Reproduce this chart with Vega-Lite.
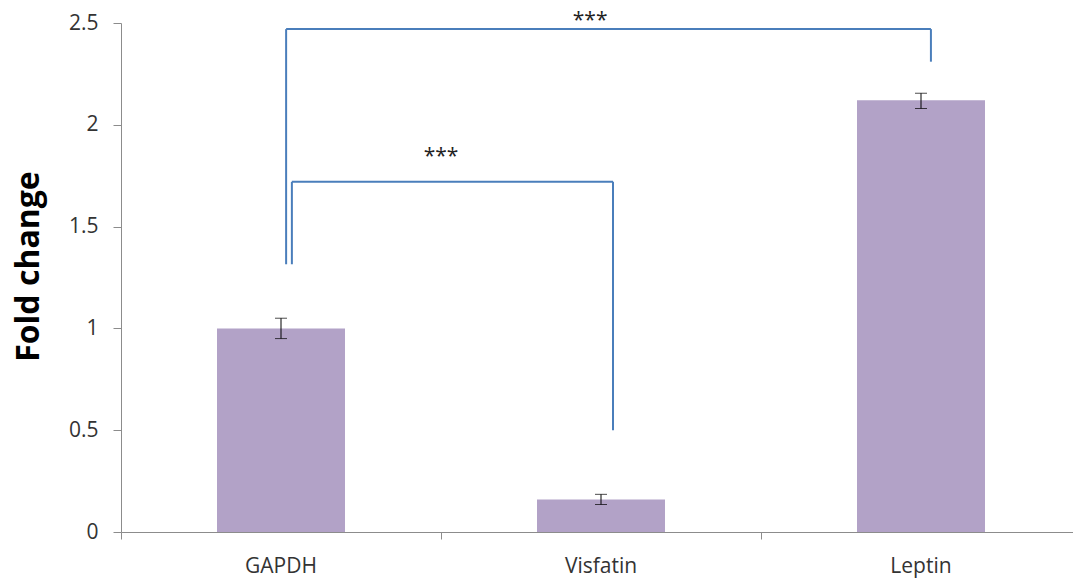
{
  "$schema": "https://vega.github.io/schema/vega-lite/v6.json",
  "width": 960,
  "height": 509,
  "autosize": {"type": "none"},
  "padding": {"left": 121, "top": 23, "right": 0, "bottom": 46},
  "background": "white",
  "config": {"view": {"stroke": null}, "font": "Open Sans"},
  "datasets": {
    "genes": [
      {"gene": "GAPDH", "value": 1.0, "lo": 0.95, "hi": 1.05},
      {"gene": "Visfatin", "value": 0.16, "lo": 0.135, "hi": 0.185},
      {"gene": "Leptin", "value": 2.12, "lo": 2.08, "hi": 2.155}
    ],
    "segments": [
      {"x": 0.516, "x2": 0.516, "y": 1.315, "y2": 2.47},
      {"x": 0.516, "x2": 2.531, "y": 2.47, "y2": 2.47},
      {"x": 2.531, "x2": 2.531, "y": 2.31, "y2": 2.47},
      {"x": 0.534, "x2": 0.534, "y": 1.315, "y2": 1.72},
      {"x": 0.534, "x2": 1.5375, "y": 1.72, "y2": 1.72},
      {"x": 1.5375, "x2": 1.5375, "y": 0.5, "y2": 1.72}
    ],
    "stars": [
      {"x": 1.466, "y": 2.51, "label": "***"},
      {"x": 1.0, "y": 1.842, "label": "***"}
    ]
  },
  "layer": [
    {
      "data": {"name": "genes"},
      "encoding": {
        "x": {
          "field": "gene",
          "type": "nominal",
          "sort": ["GAPDH", "Visfatin", "Leptin"],
          "scale": {"paddingInner": 0.6, "paddingOuter": 0.3},
          "axis": {
            "title": null,
            "orient": "bottom",
            "labelAngle": 0,
            "labelFontSize": 21,
            "labelColor": "#333333",
            "labelPadding": 23,
            "ticks": false,
            "domain": false,
            "grid": false
          }
        }
      },
      "layer": [
        {
          "mark": {"type": "bar", "color": "#b2a2c7"},
          "encoding": {
            "y": {
              "field": "value",
              "type": "quantitative",
              "scale": {"domain": [0, 2.5], "nice": false},
              "axis": {
                "title": "Fold change",
                "titleFontSize": 32,
                "titleFontWeight": "bold",
                "titleColor": "black",
                "titlePadding": 23,
                "titleY": 243,
                "values": [0, 0.5, 1, 1.5, 2, 2.5],
                "format": "~g",
                "labelFontSize": 21,
                "labelColor": "#333333",
                "labelPadding": 15,
                "tickSize": 8,
                "tickColor": "#8c8c8c",
                "domainColor": "#8c8c8c",
                "grid": false
              }
            }
          }
        },
        {
          "mark": {"type": "rule", "color": "black", "strokeWidth": 1},
          "encoding": {
            "y": {"field": "lo", "type": "quantitative"},
            "y2": {"field": "hi"}
          }
        },
        {
          "mark": {"type": "tick", "color": "black", "size": 12, "thickness": 1, "orient": "horizontal"},
          "encoding": {"y": {"field": "lo", "type": "quantitative"}}
        },
        {
          "mark": {"type": "tick", "color": "black", "size": 12, "thickness": 1, "orient": "horizontal"},
          "encoding": {"y": {"field": "hi", "type": "quantitative"}}
        }
      ]
    },
    {
      "encoding": {
        "x": {
          "field": "x",
          "type": "quantitative",
          "scale": {"domain": [0, 3], "nice": false, "zero": false},
          "axis": {
            "orient": "bottom",
            "title": null,
            "values": [0, 1, 2, 3],
            "labels": false,
            "tickSize": 7,
            "tickColor": "#8c8c8c",
            "domainColor": "#8c8c8c",
            "grid": false
          }
        },
        "y": {"field": "y", "type": "quantitative"}
      },
      "layer": [
        {
          "data": {"name": "segments"},
          "mark": {"type": "rule", "color": "#4a7ebb", "strokeWidth": 2},
          "encoding": {
            "x2": {"field": "x2"},
            "y2": {"field": "y2"}
          }
        },
        {
          "data": {"name": "stars"},
          "mark": {"type": "text", "color": "#222222", "fontSize": 21, "baseline": "middle", "align": "center"},
          "encoding": {
            "text": {"field": "label"}
          }
        }
      ]
    }
  ],
  "resolve": {"scale": {"x": "independent"}, "axis": {"x": "independent"}}
}
